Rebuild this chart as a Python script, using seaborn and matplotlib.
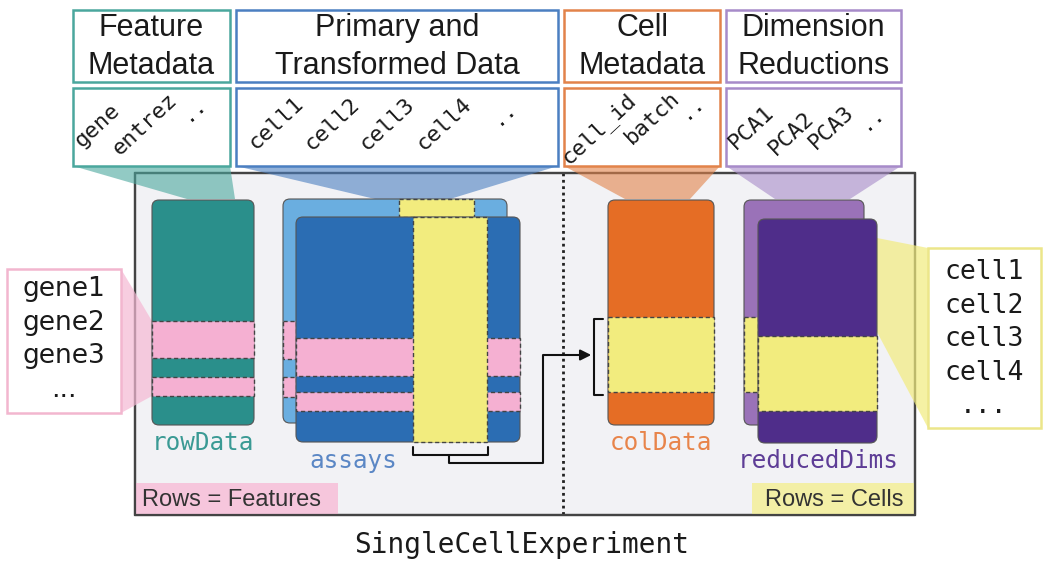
import numpy as np
import pandas as pd
import seaborn as sns
import matplotlib.pyplot as plt
from matplotlib.patches import Rectangle, FancyBboxPatch, Polygon

sns.set_theme(style="white")

# ---- content of the diagram ----
header_titles = ["Feature\nMetadata", "Primary and\nTransformed Data", "Cell\nMetadata", "Dimension\nReductions"]
header_colors = ["#4aa79d", "#4b7fc1", "#e2834a", "#a78bc9"]
feature_cols = ["gene", "entrez", ".."]
assay_cols = ["cell1", "cell2", "cell3", "cell4", ".."]
cell_cols = ["cell_id", "batch", ".."]
dimred_cols = ["PCA1", "PCA2", "PCA3", ".."]
gene_names = ["gene1", "gene2", "gene3", "..."]
cell_names = ["cell1", "cell2", "cell3", "cell4", "..."]
slot_names = ["rowData", "assays", "colData", "reducedDims"]
slot_colors = ["#3a9a94", "#5b87c5", "#e8844a", "#5e3d96"]
footer_labels = ["Rows = Features", "Rows = Cells"]
title = "SingleCellExperiment"

# colours
teal, blue, blue_lt = "#2a8f8b", "#2b6db3", "#6aaee0"
orange, purple, purple_lt = "#e56d25", "#4f2d8a", "#9a72b8"
pink, yellow = "#f5b0d2", "#f2ec7e"
mono = "DejaVu Sans Mono"
sans = "Liberation Sans"

fig = plt.figure(figsize=(10.5, 5.69), dpi=100)
ax = fig.add_axes([0, 0, 1, 1])
ax.set_xlim(0, 1050)
ax.set_ylim(569, 0)
ax.axis("off")


def rbox(x0, y0, x1, y1, fc, z):
    ax.add_patch(FancyBboxPatch((x0, y0), x1 - x0, y1 - y0,
                                boxstyle="round,pad=0,rounding_size=7",
                                fc=fc, ec="#555555", lw=0.8, zorder=z))


def band(x0, y0, x1, y1, fc, z):
    ax.add_patch(Rectangle((x0, y0), x1 - x0, y1 - y0, fc=fc, ec="#444444",
                           lw=1, ls=(0, (3, 2)), zorder=z))


# ---- main container ----
ax.add_patch(Rectangle((135, 173), 780, 342, fc="#f2f2f5", ec="#444444", lw=1.6, zorder=1))
ax.plot([563, 563], [173, 515], color="#222222", ls=(0, (1, 1.3)), lw=2, zorder=1.5)
ax.add_patch(Rectangle((135, 483), 203, 32, fc="#f6c6dc", ec="none", zorder=1.6))
ax.add_patch(Rectangle((752, 483), 163, 32, fc="#f3efa6", ec="none", zorder=1.6))
ax.text(142, 500, footer_labels[0], fontsize=17, family=sans, color="#333333",
        va="center", ha="left", zorder=5)
ax.text(834, 500, footer_labels[1], fontsize=17, family=sans, color="#333333",
        va="center", ha="center", zorder=5)
ax.plot([135, 915, 915, 135, 135], [173, 173, 515, 515, 173], color="#444444", lw=1.6, zorder=1.7)

# ---- header boxes ----
spans = [(73, 230), (236, 558), (564, 720), (726, 901)]
for (x0, x1), t, c in zip(spans, header_titles, header_colors):
    ax.add_patch(Rectangle((x0, 10), x1 - x0, 72, fc="white", ec=c, lw=1.8, zorder=3))
    ax.add_patch(Rectangle((x0, 88), x1 - x0, 78, fc="white", ec=c, lw=1.8, zorder=3))
    for k, line in enumerate(t.split("\n")):
        ax.text((x0 + x1) / 2, 28 + 38 * k, line, fontsize=22, family=sans,
                color="#1a1a1a", ha="center", va="center", zorder=4)

# rotated column names
col_sets = [feature_cols, assay_cols, cell_cols, dimred_cols]
col_pos = [[(82, 148), (120, 156), (188, 122)],
           [(256, 150), (312, 151), (367, 151), (424, 151), (498, 126)],
           [(569, 164), (632, 145), (686, 120)],
           [(736, 150), (776, 156), (816, 150), (866, 131)]]
for names, pos in zip(col_sets, col_pos):
    for n, (px, py) in zip(names, pos):
        ax.text(px, py, n, fontsize=16, family=mono, color="#1a1a1a", rotation=43,
                rotation_mode="anchor", ha="left", va="baseline", zorder=4)

# ---- funnels ----
funnels = [
    ([(73, 166), (230, 166), (235, 199), (187, 199)], header_colors[0]),
    ([(236, 166), (558, 166), (450, 199), (375, 199)], header_colors[1]),
    ([(564, 166), (720, 166), (690, 199), (625, 199)], header_colors[2]),
    ([(726, 166), (901, 166), (850, 199), (775, 199)], header_colors[3]),
]
for pts, c in funnels:
    ax.add_patch(Polygon(pts, closed=True, fc=c, ec="none", alpha=0.6, zorder=2))

ax.add_patch(Polygon([(121, 269), (152, 321), (152, 396), (121, 413)],
                     fc="#f5b8d4", ec="none", alpha=0.7, zorder=2))
ax.add_patch(Polygon([(877, 238), (928, 248), (928, 428), (877, 332)],
                     fc="#f2ec7e", ec="none", alpha=0.7, zorder=2))

# ---- side boxes ----
ax.add_patch(Rectangle((7, 269), 114, 144, fc="white", ec="#f2b6cf", lw=1.8, zorder=3))
for k, g in enumerate(gene_names):
    ax.text(64, 289 + 33.5 * k, g, fontsize=19, family="DejaVu Sans", color="#1a1a1a",
            ha="center", va="center", zorder=4)
ax.add_patch(Rectangle((928, 248), 113, 180, fc="white", ec="#ece68a", lw=1.8, zorder=3))
for k, c in enumerate(cell_names):
    ax.text(984, 272 + 33.5 * k, c, fontsize=19, family=mono, color="#1a1a1a",
            ha="center", va="center", zorder=4)

# ---- rowData ----
rbox(152, 200, 254, 425, teal, 3)
band(152, 321, 254, 358, pink, 3.5)
band(152, 377, 254, 396, pink, 3.5)

# ---- assays (back + front layer) ----
rbox(283, 199, 507, 423, blue_lt, 3)
band(283, 321, 296, 359, pink, 3.2)
band(283, 377, 296, 397, pink, 3.2)
band(399, 199, 474, 217, yellow, 3.2)
rbox(296, 217, 520, 442, blue, 4)
band(296, 338, 520, 376, pink, 4.2)
band(296, 392, 520, 411, pink, 4.2)
band(413, 217, 487, 442, yellow, 4.4)

# ---- colData ----
rbox(608, 200, 714, 425, orange, 3)
band(608, 317, 714, 392, yellow, 3.5)

# ---- reducedDims ----
rbox(744, 200, 864, 425, purple_lt, 3)
band(744, 317, 758, 392, yellow, 3.2)
rbox(758, 219, 877, 443, purple, 4)
band(758, 336, 877, 411, yellow, 4.2)

# slot labels
slot_xy = [(203, 443), (353, 461), (661, 443), (818, 461)]
for (sx, sy), n, c in zip(slot_xy, slot_names, slot_colors):
    ax.text(sx, sy, n, fontsize=17.5, family=mono, color=c, ha="center", va="center", zorder=5)

# ---- connector from assay column to colData row ----
k = dict(color="#111111", lw=1.5, zorder=5)
ax.plot([413, 413, 488, 488], [447, 455, 455, 447], **k)
ax.plot([449, 449, 543, 543, 585], [455, 463, 463, 355, 355], **k)
ax.annotate("", xy=(594, 355), xytext=(580, 355),
            arrowprops=dict(arrowstyle="-|>", color="#111111", lw=1.5,
                            mutation_scale=16), zorder=6)
ax.plot([603, 594, 594, 603], [319, 319, 395, 395], **k)

ax.text(522, 545, title, fontsize=20, family=mono, color="#1a1a1a",
        ha="center", va="center")

fig.savefig("out.png", dpi=100)
